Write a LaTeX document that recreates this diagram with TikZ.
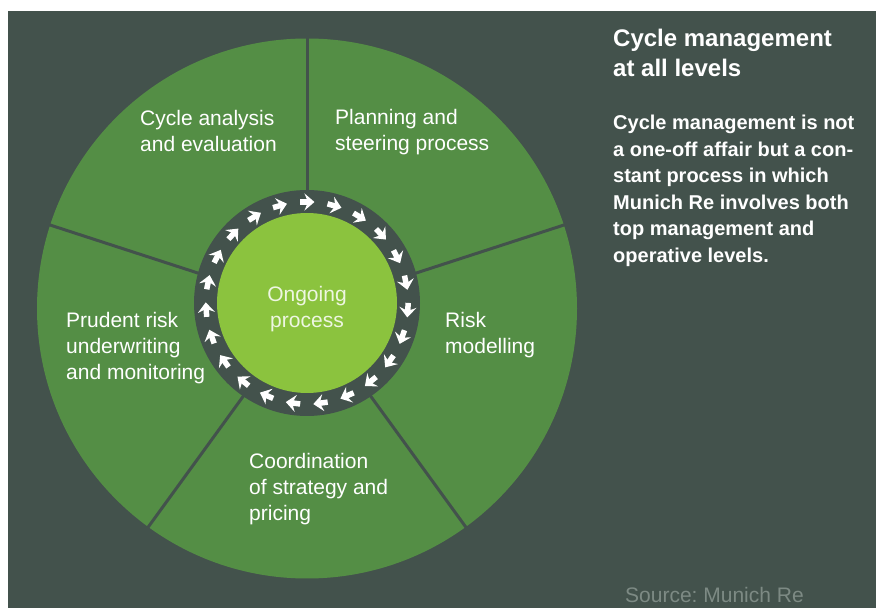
\documentclass[tikz,border=0pt]{standalone}
\usepackage{fontspec}
\setmainfont{Liberation Sans}
\usetikzlibrary{arrows.meta,calc}
\definecolor{slate}{RGB}{67,82,76}
\definecolor{leaf}{RGB}{84,142,69}
\definecolor{lime}{RGB}{139,195,62}
\definecolor{srcgray}{RGB}{125,138,132}
\frenchspacing

\begin{document}
\begin{tikzpicture}[x=1pt,y=1pt,line cap=round,
  phase/.style={anchor=base west,align=left,text=white,inner sep=0pt,font=\fontsize{21}{26}\selectfont},
  turn/.style={white,line width=5.5pt,line cap=butt,-{Stealth[length=10pt,width=17pt,inset=3.5pt]}}]
\useasboundingbox (0,0) rectangle (876,608);
\fill[slate] (8,0) rectangle (876,597);
% wheel with five phases
\coordinate (wheel) at (307,299.5);
\coordinate (hub) at (307,305);
\fill[leaf] (wheel) circle (270);
\foreach \a in {90,18,-54,-126,162}
  \draw[slate,line width=3pt,line cap=butt] ($(wheel)+(\a:100)$) -- ($(wheel)+(\a:272)$);
% ring of arrows round the hub
\fill[slate] (hub) circle (113);
\fill[lime] (hub) circle (90);
\foreach \k in {0,...,22}
  \draw[turn,shift={(hub)},rotate=90-\k*360/23] (101,7) -- (101,-7.5);
% multi-line nodes sit on the baseline of their last line
\node[align=center,inner sep=0pt,anchor=base,text=white!85!lime,font=\fontsize{21}{26}\selectfont] (ongoing) at (307,280) {Ongoing\\process};
\node[phase] (analysis) at (140,456) {Cycle analysis\\and evaluation};
\node[phase] (planning) at (335,457) {Planning and\\steering process};
\node[phase] (modelling) at (445,254) {Risk\\modelling};
\node[phase] (strategy) at (249,87) {Coordination\\of strategy and\\pricing};
\node[phase] (underwriting) at (66,228) {Prudent risk\\underwriting\\and monitoring};
% side text
\node[phase,font=\fontsize{24}{30}\bfseries] (title) at (613,531) {Cycle management\\at all levels};
\node[phase,font=\fontsize{20}{26.5}\bfseries] (body) at (613,345.5) {Cycle management is not\\a one-off affair but a con-\\stant process in which\\Munich Re involves both\\top management and\\operative levels.};
\node[phase,text=srcgray] (source) at (625,5) {Source: Munich Re};
\end{tikzpicture}
\end{document}
